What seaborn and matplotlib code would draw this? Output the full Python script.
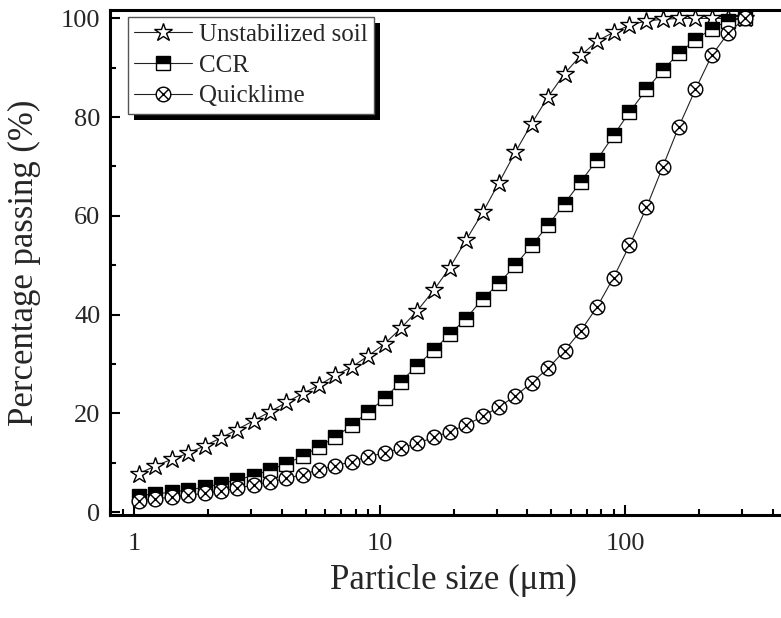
import matplotlib
matplotlib.use("Agg")
import matplotlib.pyplot as plt
import seaborn as sns
from matplotlib.path import Path
from matplotlib.patches import Rectangle
from matplotlib.ticker import MultipleLocator

# particle size classes (um)
sizes = [1.05, 1.22, 1.43, 1.66, 1.94, 2.26, 2.63, 3.07, 3.58, 4.17,
         4.86, 5.67, 6.61, 7.71, 8.98, 10.5, 12.2, 14.2, 16.6, 19.3,
         22.5, 26.3, 30.6, 35.7, 41.6, 48.5, 56.6, 65.9, 76.9, 89.6,
         104, 122, 142, 165, 193, 225, 262, 306]

unstabilized = [7.8, 9.3, 10.7, 11.9, 13.4, 15.0, 16.7, 18.5, 20.3, 22.2,
                24.0, 25.7, 27.7, 29.4, 31.6, 34.1, 37.2, 40.7, 44.9, 49.5,
                55.1, 60.7, 66.7, 72.9, 78.7, 84.1, 88.8, 92.5, 95.4, 97.2,
                98.6, 99.5, 99.8, 100, 100, 100, 100, 100]

ccr = [3.3, 3.7, 4.0, 4.5, 5.0, 5.7, 6.5, 7.4, 8.5, 9.8,
       11.3, 13.2, 15.2, 17.6, 20.3, 23.0, 26.4, 29.6, 32.8, 36.0,
       39.2, 43.2, 46.3, 50.0, 54.0, 58.1, 62.5, 66.9, 71.4, 76.3,
       81.0, 85.6, 89.5, 92.9, 95.7, 97.9, 99.5, 100]

quicklime = [2.3, 2.6, 3.1, 3.4, 3.8, 4.3, 4.8, 5.5, 6.1, 6.8,
             7.6, 8.6, 9.4, 10.2, 11.2, 12.0, 12.9, 13.9, 15.1, 16.3,
             17.6, 19.4, 21.3, 23.5, 26.2, 29.1, 32.7, 36.7, 41.6, 47.5,
             54.0, 61.7, 69.9, 78.0, 85.6, 92.5, 97.0, 100]

sns.set_theme(style="ticks")
plt.rcParams["font.family"] = ["Liberation Serif", "DejaVu Serif"]

# circle with a cross, Origin style
d = 0.7071
cross = Path([(-d, -d), (d, d), (-d, d), (d, -d)],
             [Path.MOVETO, Path.LINETO, Path.MOVETO, Path.LINETO])
circle_x = Path.make_compound_path(Path.unit_circle(), cross)

fig = plt.figure(figsize=(7.81, 6.18), dpi=100)
ax = fig.add_axes([110 / 781, 103 / 618, 687 / 781, 505 / 618])

kw = dict(color="#222222", linewidth=0.8, markeredgecolor="black",
          markeredgewidth=1.0, estimator=None, sort=False, ax=ax)
sns.lineplot(x=sizes, y=unstabilized, marker="*", markersize=13.5,
             markerfacecolor="white", label="Unstabilized soil", **kw)
sns.lineplot(x=sizes, y=ccr, marker="s", markersize=9.5,
             markerfacecolor="black", markerfacecoloralt="white",
             fillstyle="top", label="CCR", **kw)
sns.lineplot(x=sizes, y=quicklime, marker=circle_x, markersize=10.5,
             markerfacecolor="white", label="Quicklime", **kw)

ax.set_xscale("log")
ax.set_xlim(0.8, 500)
ax.set_ylim(-0.6, 101.7)
ax.set_xticks([1, 10, 100])
ax.set_xticklabels(["1", "10", "100"])
ax.yaxis.set_major_locator(MultipleLocator(20))
ax.yaxis.set_minor_locator(MultipleLocator(10))

ax.tick_params(which="both", direction="in", top=False, right=False,
               width=1.5, color="black")
ax.tick_params(which="major", length=7, labelsize=19)
ax.tick_params(which="minor", length=4.5)
ax.tick_params(axis="x", which="major", pad=13)
ax.tick_params(axis="y", which="major", pad=7)
for s in ax.spines.values():
    s.set_linewidth(2.2)
    s.set_color("black")

ax.set_xlabel("Particle size (\u03bcm)", fontsize=25)
ax.set_ylabel("Percentage passing (%)", fontsize=25)
ax.xaxis.label.set_va("center")
ax.yaxis.label.set_va("center")
ax.xaxis.set_label_coords(0.5, -0.129)
ax.yaxis.set_label_coords(-0.124, 0.5)

leg = ax.legend(loc="upper left", bbox_to_anchor=(18 / 687, 498 / 505),
                borderaxespad=0, frameon=True, fancybox=False, framealpha=1,
                fontsize=18, handlelength=2.3, handletextpad=0.3,
                borderpad=0.25, labelspacing=0.33, edgecolor="#555555")
leg.get_frame().set_linewidth(1.0)

# black drop shadow behind the legend box
fig.canvas.draw()
bb = leg.get_window_extent().transformed(ax.transAxes.inverted())
ax.add_patch(Rectangle((bb.x0 + 6 / 687, bb.y0 - 6 / 505), bb.width, bb.height,
                       transform=ax.transAxes, facecolor="black",
                       edgecolor="none", zorder=4, clip_on=False))

fig.savefig("out.png", dpi=100)
plt.close()
